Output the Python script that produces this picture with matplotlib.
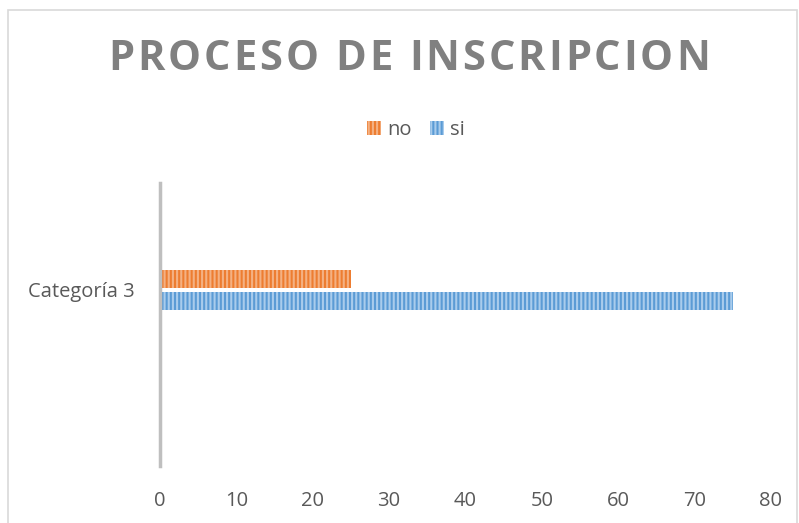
import matplotlib
matplotlib.use("Agg")
import matplotlib.pyplot as plt
from matplotlib.patches import Rectangle, Patch
from matplotlib.font_manager import findfont, FontProperties
from matplotlib.ft2font import FT2Font

categories = ["Categoría 3"]
series_names = ["no", "si"]
values_no = [25]
values_si = [75]
xticks = [0, 10, 20, 30, 40, 50, 60, 70, 80]
title = "PROCESO DE INSCRIPCION"

W, H, DPI = 799, 523, 100
FONT = "Open Sans"
TXT = "#595959"
plt.rcParams["font.family"] = [FONT, "DejaVu Sans"]
plt.rcParams["hatch.linewidth"] = 1.5

fig = plt.figure(figsize=(W / DPI, H / DPI), dpi=DPI)
fig.patch.set_facecolor("white")

# chart border
fig.patches.append(Rectangle((8 / W, -0.05), (797 - 8) / W, 1.05 - 10 / H,
                             transform=fig.transFigure, fill=False,
                             edgecolor="#D9D9D9", linewidth=1.2))

ax = fig.add_axes([160 / W, (H - 466) / H, (771 - 160) / W, (466 - 183) / H])

ypos = 0.0
off = 0.11
h = 0.18
ax.barh([ypos + off], values_no, height=h, color="#ED7D31", edgecolor="#F4B183",
        hatch="||||", linewidth=0, label=series_names[0])
ax.barh([ypos - off], values_si, height=h, color="#5B9BD5", edgecolor="#A9CCEC",
        hatch="||||", linewidth=0, label=series_names[1])

ax.set_xlim(0, 80)
ax.set_ylim(-1.765, 1.065)
ax.set_xticks(xticks)
ax.set_xticklabels([str(t) for t in xticks])
ax.set_yticks([ypos])
ax.set_yticklabels(categories)
ax.tick_params(axis="x", length=0, pad=18, labelsize=14.5, labelcolor=TXT)
ax.tick_params(axis="y", length=0, pad=18, labelsize=14.5, labelcolor=TXT)
for s in ["top", "right", "bottom"]:
    ax.spines[s].set_visible(False)
ax.spines["left"].set_color("#BFBFBF")
ax.spines["left"].set_linewidth(2.5)

# legend
handles = [Patch(facecolor="#ED7D31", edgecolor="#F4B183", hatch="||||", linewidth=0),
           Patch(facecolor="#5B9BD5", edgecolor="#A9CCEC", hatch="||||", linewidth=0)]
fig.legend(handles, series_names, loc="center", bbox_to_anchor=(416 / W, 1 - 130 / H),
           ncol=2, frameon=False, fontsize=14.5, labelcolor=TXT, handlelength=0.7,
           handleheight=0.7, handletextpad=0.3, columnspacing=0.9)

# title with letter spacing
tsize = 30
fp = FontProperties(family=FONT, weight="bold", size=tsize)
ft = FT2Font(findfont(fp))
ft.set_size(tsize, DPI)
advs = []
for c in title:
    g = ft.load_char(ord(c))
    advs.append(g.linearHoriAdvance / 65536.0)
x0, x1 = 108, 710
natural = sum(advs)
extra = ((x1 - x0) - natural) / (len(title) - 1)
x = x0
for c, a in zip(title, advs):
    fig.text(x / W, 1 - 60 / H, c, fontproperties=fp, color="#808080",
             ha="left", va="center")
    x += a + extra

fig.savefig("out.png", dpi=DPI)
